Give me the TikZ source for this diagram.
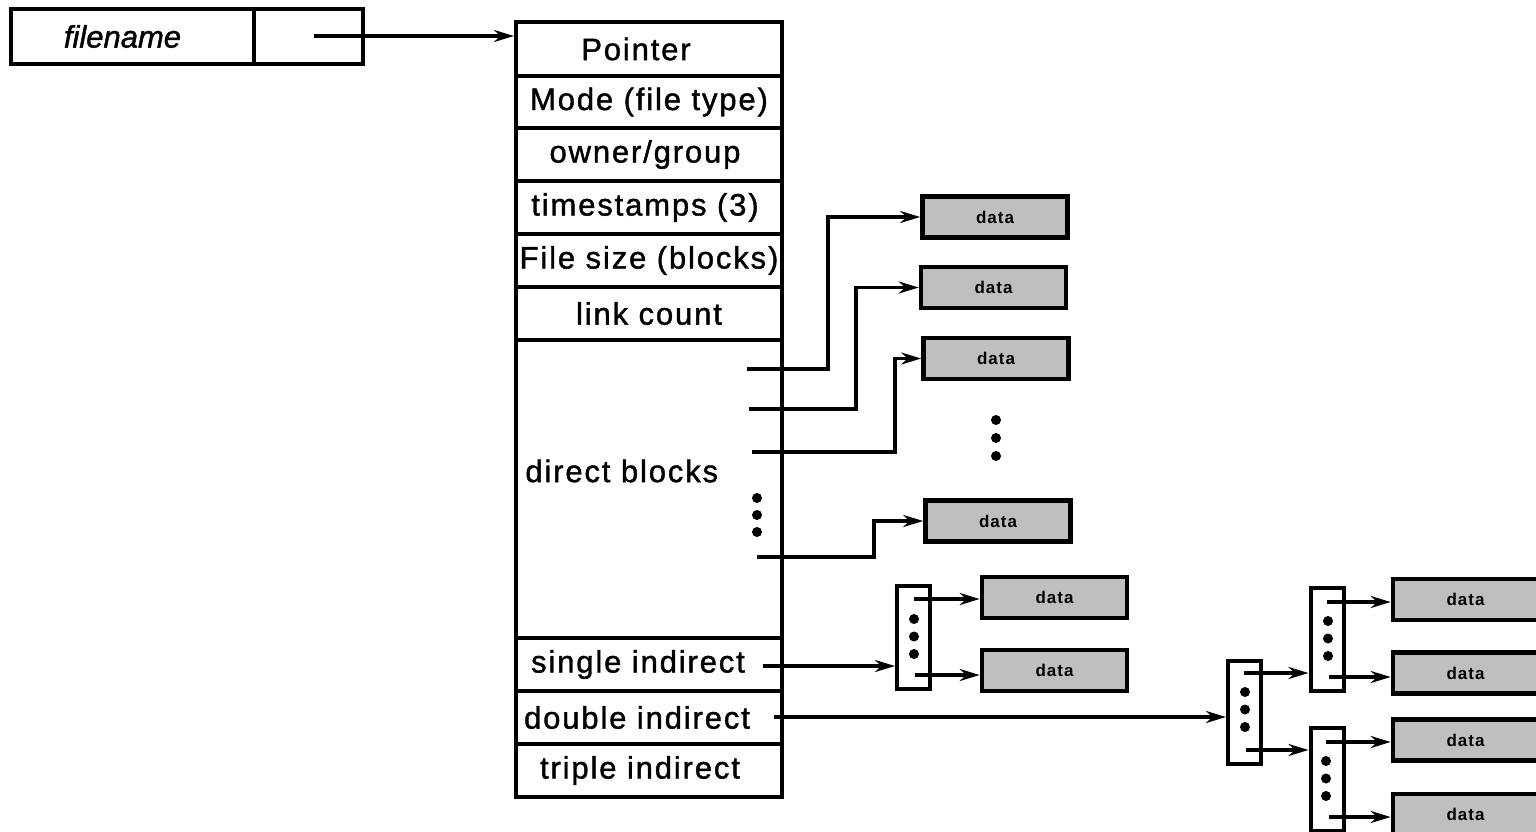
\documentclass[tikz,border=0pt]{standalone}
\usepackage{fontspec}
\setmainfont{Liberation Sans}
\newfontfamily\cellfont[LetterSpace=6, FakeBold=1.3]{Liberation Sans}
\newfontfamily\namefont[FakeBold=1.3]{Liberation Sans}
\newfontfamily\datafont[LetterSpace=6]{Liberation Sans}
\usetikzlibrary{arrows.meta,calc}
\tikzset{
  cell/.style={draw=black, line width=2pt, minimum width=133pt, inner sep=0pt,
    font=\cellfont\fontsize{15.5}{17}\selectfont},
  datablk/.style={draw=black, line width=2.3pt, fill=gray!50, minimum width=72.5pt,
    minimum height=20.5pt, inner sep=0pt, font=\datafont\bfseries\fontsize{8.5}{9}\selectfont},
  ptrblk/.style={draw=black, line width=2pt, fill=white, minimum width=16.5pt,
    minimum height=51.5pt, inner sep=0pt},
  edge/.style={-{Stealth[length=10pt, width=6pt]}, line width=1.7pt},
}
\newcommand{\dotcol}[3]{\foreach \k in {0,1,2} \fill (#1,#2+\k*#3) circle (2.5pt);}
% pushes a centred cell text to the left
\newcommand{\txtleft}[1]{\hspace*{#1}}

\begin{document}
\begin{tikzpicture}[x=0.5pt, y=-0.5pt]
  \useasboundingbox (0,0) rectangle (1536,831);
  \clip (0,0) rectangle (1536,831);

  %% ---- directory entry ----
  \node[cell, minimum width=121.5pt, minimum height=27.5pt,
    font=\namefont\itshape\fontsize{15.5}{17}\selectfont] (fname) at (132.5,36.5) {filename\txtleft{10pt}};
  \node[cell, minimum width=54.5pt, minimum height=27.5pt] (fslot) at (308.5,36.5) {};

  %% ---- inode ----
  \node[cell, minimum height=27pt]   (ptr)    at (649,49)    {Pointer\txtleft{13pt}};
  \node[cell, minimum height=26pt]   (mode)   at (649,102)   {Mode (file type)};
  \node[cell, minimum height=26.5pt] (owner)  at (649,154.5) {owner/group\txtleft{4pt}};
  \node[cell, minimum height=26.5pt] (tstamp) at (649,207.5) {timestamps (3)\txtleft{4pt}};
  \node[cell, minimum height=26.5pt] (fsize)  at (649,260.5) {File size (blocks)};
  \node[cell, minimum height=26.5pt] (links)  at (649,313.5) {link count};
  \node[cell, minimum height=149pt]  (direct) at (649,489)   {};
  \node[anchor=west, inner sep=0pt, font=\cellfont\fontsize{15.5}{17}\selectfont]
    (dirtxt) at (525,471) {direct blocks};
  \node[cell, minimum height=26.5pt] (single) at (649,664.5) {single indirect\txtleft{11pt}};
  \node[cell, minimum height=26.5pt] (double) at (649,717.5) {double indirect\txtleft{12pt}};
  \node[cell, minimum height=26.5pt] (triple) at (649,770.5) {triple indirect\txtleft{9pt}};

  \dotcol{757}{498}{17}

  \coordinate (f0) at (314,36);
  \draw[edge] (f0) -- (f0 -| ptr.west);

  %% ---- direct data blocks ----
  \node[datablk] (d1) at (995,217)   {data};
  \node[datablk] (d2) at (993.5,287.5) {data};
  \node[datablk] (d3) at (996,358.5) {data};
  \node[datablk] (d4) at (998,521)   {data};
  \dotcol{996}{420}{18}

  \coordinate (c1) at (747,369);
  \coordinate (c2) at (749,409);
  \coordinate (c3) at (752,452);
  \coordinate (c4) at (757,557);
  \draw[edge] (c1) -- ++(81,0)  |- (d1.west);
  \draw[edge] (c2) -- ++(107,0) |- (d2.west);
  \draw[edge] (c3) -- ++(143,0) |- (d3.west);
  \draw[edge] (c4) -- ++(117,0) |- (d4.west);

  %% ---- single indirect ----
  \node[ptrblk] (ind1) at (913.5,637.5) {};
  \node[datablk] (s1) at (1054.5,597.5) {data};
  \node[datablk] (s2) at (1054.5,670.5) {data};
  \dotcol{914}{619}{17.5}

  \coordinate (si) at (763,666);
  \draw[edge] (si) -- (si -| ind1.west);
  \coordinate (i1a) at (914,599);
  \coordinate (i1b) at (915,675);
  \draw[edge] (i1a) -- (i1a -| s1.west);
  \draw[edge] (i1b) -- (i1b -| s2.west);

  %% ---- double indirect ----
  \node[ptrblk] (dbl)  at (1244.5,712) {};
  \node[ptrblk] (dblA) at (1327,639.5) {};
  \node[ptrblk] (dblB) at (1327,779)   {};
  \node[datablk] (r1) at (1465.5,599.5) {data};
  \node[datablk] (r2) at (1465.5,673)   {data};
  \node[datablk] (r3) at (1465.5,740)   {data};
  \node[datablk] (r4) at (1465.5,814.5) {data};
  \dotcol{1245}{692}{17.5}
  \dotcol{1328}{621}{17.5}
  \dotcol{1326}{761}{17.5}

  \coordinate (di) at (774,717);
  \draw[edge] (di) -- (di -| dbl.west);
  \coordinate (da) at (1244,673);
  \coordinate (db) at (1246,750);
  \draw[edge] (da) -- (da -| dblA.west);
  \draw[edge] (db) -- (db -| dblB.west);
  \coordinate (aa) at (1327,602);
  \coordinate (ab) at (1329,677);
  \coordinate (ba) at (1326,742);
  \coordinate (bb) at (1329,817);
  \draw[edge] (aa) -- (aa -| r1.west);
  \draw[edge] (ab) -- (ab -| r2.west);
  \draw[edge] (ba) -- (ba -| r3.west);
  \draw[edge] (bb) -- (bb -| r4.west);

\end{tikzpicture}
\end{document}
